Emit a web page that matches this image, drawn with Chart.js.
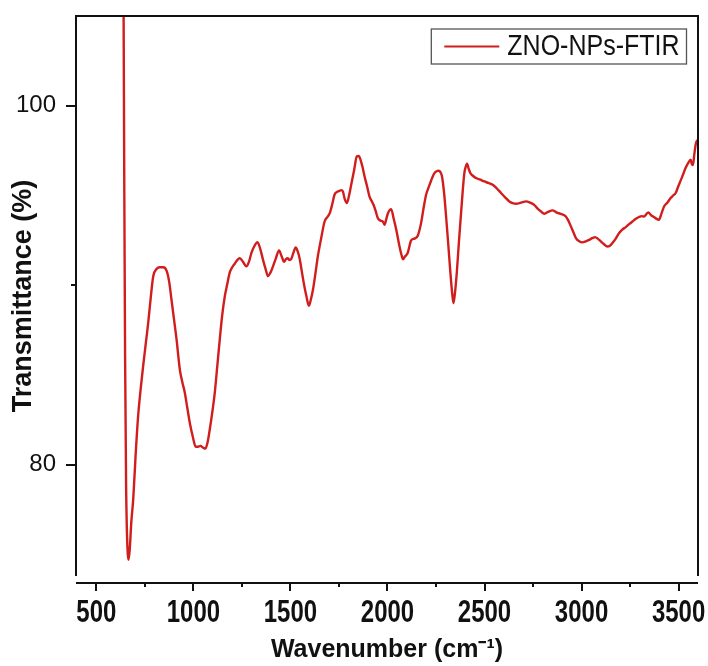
<!DOCTYPE html>
<html lang="en">
<head>
<meta charset="UTF-8">
<title>ZNO-NPs FTIR</title>
<script src="https://cdn.jsdelivr.net/npm/chart.js"></script>
<style>
  html, body { margin: 0; padding: 0; background: #fff; }
  #chart { display: block; }
</style>
</head>
<body>
<canvas id="chart" width="708" height="666"></canvas>
<script>
// values
const seriesLabel = 'ZNO-NPs-FTIR';
const wavenumber = [
  640, 644, 648, 653, 658, 662, 666, 672, 680, 690, 702, 715, 728, 741, 754, 767, 780, 793, 810, 827,
  845, 862, 875, 887, 900, 913, 930, 943, 956, 968, 982, 996, 1012, 1024, 1036, 1050, 1062, 1074, 1084, 1097,
  1110, 1123, 1136, 1148, 1162, 1175, 1187, 1200, 1213, 1226, 1239, 1256, 1273, 1286, 1299, 1315, 1330, 1345, 1359, 1372,
  1384, 1397, 1410, 1425, 1441, 1455, 1467, 1477, 1487, 1495, 1504, 1515, 1527, 1537, 1547, 1558, 1569, 1582, 1595, 1605,
  1616, 1628, 1641, 1658, 1676, 1690, 1702, 1715, 1727, 1740, 1753, 1762, 1770, 1780, 1791, 1802, 1813, 1828, 1842, 1852,
  1860, 1871, 1882, 1895, 1907, 1918, 1928, 1940, 1950, 1963, 1976, 1985, 1994, 2002, 2019, 2032, 2045, 2062, 2072, 2080,
  2090, 2104, 2122, 2139, 2156, 2173, 2186, 2199, 2210, 2220, 2231, 2242, 2253, 2264, 2273, 2281, 2292, 2302, 2313, 2323,
  2332, 2340, 2348, 2357, 2368, 2379, 2388, 2396, 2403, 2410, 2418, 2427, 2440, 2456, 2478, 2499, 2520, 2542, 2563, 2585,
  2606, 2628, 2645, 2662, 2688, 2714, 2735, 2756, 2775, 2791, 2808, 2830, 2850, 2872, 2893, 2919, 2932, 2945, 2958, 2971,
  2988, 3005, 3022, 3039, 3055, 3070, 3085, 3099, 3116, 3133, 3146, 3159, 3176, 3193, 3210, 3228, 3245, 3262, 3280, 3296,
  3310, 3322, 3333, 3344, 3358, 3373, 3386, 3399, 3412, 3425, 3442, 3459, 3472, 3485, 3498, 3511, 3524, 3536, 3549, 3562,
  3568, 3574, 3581, 3588, 3596
];
const transmittance = [
  106, 95, 86, 79, 76, 75, 74.7, 75.3, 76.8, 78.1, 80.5, 82.7, 84.2, 85.5, 86.7, 87.9, 89.3, 90.5, 90.9, 91.0,
  91.0, 90.8, 90.2, 89.2, 88.1, 87.0, 85.3, 84.6, 84.0, 83.2, 82.3, 81.6, 81.0, 81.0, 81.05, 80.95, 80.9, 81.3, 81.95, 82.9,
  84.0, 85.5, 87.0, 88.3, 89.4, 90.1, 90.7, 91.0, 91.2, 91.4, 91.5, 91.3, 91.05, 91.3, 91.8, 92.2, 92.4, 92.0, 91.4, 90.9,
  90.5, 90.7, 91.05, 91.5, 91.94, 91.6, 91.3, 91.45, 91.5, 91.4, 91.46, 91.8, 92.1, 91.9, 91.5, 90.8, 90.1, 89.4, 88.86, 89.2,
  89.75, 90.6, 91.6, 92.6, 93.55, 93.8, 94.0, 94.5, 95.04, 95.2, 95.26, 95.3, 95.23, 94.8, 94.58, 95.0, 95.6, 96.4, 97.18, 97.2,
  97.03, 96.6, 96.06, 95.5, 94.95, 94.7, 94.48, 94.1, 93.74, 93.6, 93.55, 93.37, 93.7, 94.0, 94.24, 93.7, 93.1, 92.16, 91.7, 91.45,
  91.6, 91.8, 92.5, 92.6, 92.76, 93.46, 94.3, 95.04, 95.4, 95.69, 96.0, 96.25, 96.35, 96.38, 96.3, 96.06, 95.1, 93.83, 92.3, 90.86,
  89.7, 89.0, 89.6, 90.68, 92.4, 94.0, 95.3, 96.25, 96.6, 96.77, 96.5, 96.25, 96.1, 95.97, 95.88, 95.78, 95.7, 95.6, 95.4, 95.14,
  94.9, 94.67, 94.58, 94.54, 94.6, 94.67, 94.6, 94.48, 94.25, 94.11, 93.98, 94.1, 94.17, 94.05, 93.97, 93.83, 93.6, 93.28, 92.95, 92.63,
  92.45, 92.39, 92.45, 92.53, 92.62, 92.68, 92.58, 92.44, 92.28, 92.16, 92.2, 92.35, 92.6, 92.9, 93.1, 93.24, 93.4, 93.55, 93.7, 93.8,
  93.85, 93.83, 93.95, 94.06, 93.9, 93.8, 93.7, 93.65, 94.0, 94.39, 94.6, 94.86, 95.0, 95.14, 95.5, 95.84, 96.2, 96.53, 96.8, 97.0,
  96.75, 96.7, 97.3, 97.83, 98.1
];
const xTickLabels = [500, 1000, 1500, 2000, 2500, 3000, 3500];
const yTickLabels = [80, 100];
const xMinorTicks = [750, 1250, 1750, 2250, 2750, 3250];
const yMinorTicks = [90];

const lineColor = '#d21d1d';
const fontFamily = "'Liberation Sans', Arial, Helvetica, sans-serif";

const points = wavenumber.map((w, i) => ({ x: w, y: transmittance[i] }));

// frame, offset bottom axis with its labels, tick marks and the boxed legend
const framePlugin = {
  id: 'framePlugin',
  afterDraw(chart) {
    const { ctx, chartArea: a, scales: { x, y } } = chart;
    ctx.save();
    ctx.strokeStyle = '#111';
    ctx.lineWidth = 2;
    ctx.beginPath();
    ctx.moveTo(a.left, a.bottom);
    ctx.lineTo(a.left, a.top);
    ctx.lineTo(a.right, a.top);
    ctx.lineTo(a.right, a.bottom);
    ctx.stroke();

    const axisY = a.bottom + 7;
    ctx.beginPath();
    ctx.moveTo(a.left, axisY);
    ctx.lineTo(a.right, axisY);
    xTickLabels.concat(xMinorTicks).forEach(v => {
      const px = Math.round(x.getPixelForValue(v));
      ctx.moveTo(px, axisY);
      ctx.lineTo(px, axisY + (xTickLabels.includes(v) ? 8 : 4));
    });
    yTickLabels.concat(yMinorTicks).forEach(v => {
      const py = Math.round(y.getPixelForValue(v));
      ctx.moveTo(a.left, py);
      ctx.lineTo(a.left - (yTickLabels.includes(v) ? 10 : 5), py);
    });
    ctx.stroke();

    // tick labels: the source figure's lettering is tall and narrow
    ctx.fillStyle = '#111';
    ctx.font = 'bold 24px ' + fontFamily;
    ctx.textAlign = 'center';
    ctx.textBaseline = 'alphabetic';
    xTickLabels.forEach(v => {
      ctx.save();
      ctx.translate(x.getPixelForValue(v), axisY + 39);
      ctx.scale(1, 1.3);
      ctx.fillText(String(v), 0, 0);
      ctx.restore();
    });

    // legend
    ctx.font = '25px ' + fontFamily;
    ctx.textAlign = 'left';
    const textW = ctx.measureText(seriesLabel).width;
    const boxRight = a.right - 11.5;
    const boxTop = a.top + 13;
    const boxH = 35;
    const textX = boxRight - 7 - textW;
    const lineEnd = textX - 8;
    const lineStart = lineEnd - 55;
    const boxLeft = lineStart - 13;
    ctx.lineWidth = 1.3;
    ctx.strokeStyle = '#555';
    ctx.strokeRect(boxLeft, boxTop, boxRight - boxLeft, boxH);
    const midY = boxTop + boxH / 2;
    ctx.strokeStyle = lineColor;
    ctx.lineWidth = 2.2;
    ctx.beginPath();
    ctx.moveTo(lineStart, midY);
    ctx.lineTo(lineEnd, midY);
    ctx.stroke();
    ctx.textBaseline = 'middle';
    ctx.save();
    ctx.translate(textX, midY + 1);
    ctx.scale(1, 1.15);
    ctx.fillText(seriesLabel, 0, 0);
    ctx.restore();
    ctx.restore();
  }
};

new Chart(document.getElementById('chart'), {
  type: 'line',
  data: {
    datasets: [{
      label: seriesLabel,
      data: points,
      borderColor: lineColor,
      borderWidth: 2.4,
      pointRadius: 0,
      cubicInterpolationMode: 'monotone',
      fill: false
    }]
  },
  options: {
    responsive: false,
    animation: false,
    devicePixelRatio: 1,
    layout: { padding: { top: 16, right: 10, left: 0, bottom: 0 } },
    plugins: {
      legend: { display: false },
      tooltip: { enabled: false }
    },
    scales: {
      x: {
        type: 'linear',
        min: 395,
        max: 3600,
        afterFit: s => { s.height = 90; },
        grid: { display: false },
        border: { display: false },
        ticks: { display: false, stepSize: 500 },
        title: {
          display: true,
          text: 'Wavenumber (cm\u207B\u00B9)',
          color: '#111',
          font: { family: fontFamily, size: 25, weight: 'bold' },
          padding: { top: 0, bottom: 1 }
        }
      },
      y: {
        min: 73.8,
        max: 105,
        afterFit: s => { s.width = 76; },
        grid: { display: false, drawTicks: true, tickLength: 20 },
        border: { display: false },
        ticks: {
          stepSize: 20,
          includeBounds: false,
          padding: 0,
          color: '#111',
          font: { family: fontFamily, size: 24 },
          callback: v => yTickLabels.includes(v) ? String(v) : ''
        },
        title: {
          display: true,
          text: 'Transmittance (%)',
          color: '#111',
          font: { family: fontFamily, size: 27, weight: 'bold' },
          padding: { top: 7, bottom: 0 }
        }
      }
    }
  },
  plugins: [framePlugin]
});
</script>
</body>
</html>
